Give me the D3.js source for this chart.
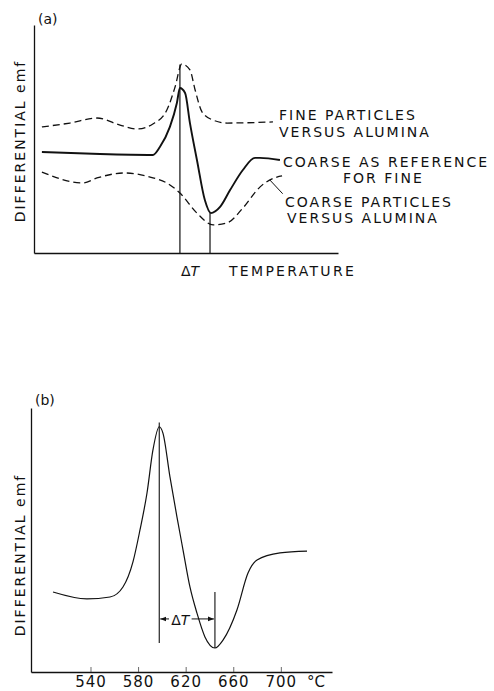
<!DOCTYPE html>
<html>
<head>
<meta charset="utf-8">
<script src="https://cdn.jsdelivr.net/npm/d3@7"></script>
<style>
  body { margin: 0; background: #fff; }
  svg text { font-family: "DejaVu Sans", sans-serif; fill: #111; }
</style>
</head>
<body>
<svg id="chart" width="494" height="691"></svg>
<script>
// (a) schematic curves, arbitrary units: t = temperature (0-100), v = emf (0-100)
const fineT   = [2.6, 11.8, 20.7, 28.3, 33.9, 39.1, 43.7, 46.4, 48.6, 51.3, 53.0, 55.3, 58.9, 63.5, 78.6];
const fineV   = [55.3, 57.0, 59.2, 56.1, 54.4, 56.6, 62.7, 72.8, 82.9, 80.3, 71.5, 61.8, 58.3, 57.0, 57.5];
const coarseRefT = [2.6, 21.7, 39.1, 41.4, 44.7, 47.0, 48.0, 49.7, 51.3, 53.6, 56.2, 58.2, 61.2, 64.5, 68.7, 72.7, 74.3, 80.9];
const coarseRefV = [44.3, 43.4, 43.0, 46.5, 55.3, 65.8, 72.4, 70.2, 57.0, 40.8, 23.2, 17.5, 20.2, 27.6, 36.4, 41.7, 41.7, 40.8];
const coarseT = [2.6, 16.1, 20.7, 29.9, 38.2, 43.7, 48.0, 53.6, 58.9, 63.5, 68.7, 74.3, 79.9, 81.6];
const coarseV = [35.5, 30.7, 32.9, 35.1, 33.3, 30.7, 26.3, 17.5, 12.3, 13.2, 19.7, 28.9, 33.3, 33.8];
// (b) measured curve: temperature in degC, emf arbitrary
const tempB = [508.5, 537, 556.4, 567.3, 575.7, 581.6, 587.5, 592.5, 597.8, 600.9, 606.8, 612.7, 617.8, 623.6, 629.5, 636.2, 644.6, 651.4, 663.1, 672.4, 680, 699.3, 722];
const emfB  = [30.3, 27.7, 28.4, 32.2, 41.7, 53.8, 67.8, 84.1, 92.9, 90.5, 73.9, 58.7, 46.2, 32.2, 22.3, 13.3, 9.1, 12.1, 23.5, 37.5, 42.4, 45.1, 45.8];
const tickB = [540, 580, 620, 660, 700];

const svg = d3.select("#chart");
const zip = (xs, ys) => xs.map((x, i) => ({x: x, y: ys[i]}));

// ---------- panel (a)
const xa = d3.scaleLinear().domain([0, 100]).range([34, 338]);
const ya = d3.scaleLinear().domain([0, 100]).range([253, 25]);
const lineA = d3.line().x(d => xa(d.x)).y(d => ya(d.y)).curve(d3.curveMonotoneX);

const ga = svg.append("g");
ga.append("g").attr("transform", "translate(0,253)")
    .call(d3.axisBottom(xa).tickValues([]).tickSizeOuter(0));
ga.append("g").attr("transform", "translate(34,0)")
    .call(d3.axisLeft(ya).tickValues([]).tickSizeOuter(0));
ga.selectAll(".domain").attr("stroke", "#111").attr("stroke-width", 1.3);

ga.append("path").attr("d", lineA(zip(fineT, fineV)))
    .attr("fill", "none").attr("stroke", "#111").attr("stroke-width", 1.3).attr("stroke-dasharray", "7,4");
ga.append("path").attr("d", lineA(zip(coarseT, coarseV)))
    .attr("fill", "none").attr("stroke", "#111").attr("stroke-width", 1.3).attr("stroke-dasharray", "7,4");
ga.append("path").attr("d", lineA(zip(coarseRefT, coarseRefV)))
    .attr("fill", "none").attr("stroke", "#111").attr("stroke-width", 1.9);

// delta T verticals
ga.append("line").attr("x1", xa(48.0)).attr("x2", xa(48.0)).attr("y1", ya(0)).attr("y2", ya(82.7))
    .attr("stroke", "#111").attr("stroke-width", 1.2);
ga.append("line").attr("x1", xa(57.9)).attr("x2", xa(57.9)).attr("y1", ya(0)).attr("y2", ya(17.5))
    .attr("stroke", "#111").attr("stroke-width", 1.2);
// leader for lower label
ga.append("line").attr("x1", xa(77.6)).attr("y1", ya(32.0)).attr("x2", xa(81.8)).attr("y2", ya(26.0))
    .attr("stroke", "#111").attr("stroke-width", 1);

const labA = [
  {t: "FINE PARTICLES", x: 279, y: 120},
  {t: "VERSUS ALUMINA", x: 279, y: 137},
  {t: "COARSE AS REFERENCE", x: 283, y: 167},
  {t: "FOR FINE", x: 343, y: 183},
  {t: "COARSE PARTICLES", x: 285, y: 207},
  {t: "VERSUS ALUMINA", x: 287, y: 223}
];
ga.selectAll("text.lab").data(labA).enter().append("text")
    .attr("class", "lab").attr("x", d => d.x).attr("y", d => d.y)
    .attr("font-size", "14px").attr("letter-spacing", "2px").text(d => d.t);
ga.append("text").attr("x", 38).attr("y", 24).attr("font-size", "14px").text("(a)");
ga.append("text").attr("transform", "translate(25,141) rotate(-90)")
    .attr("text-anchor", "middle").attr("font-size", "14px").attr("letter-spacing", "2px")
    .text("DIFFERENTIAL emf");
const dtA = ga.append("text").attr("x", 181).attr("y", 276).attr("font-size", "14px");
dtA.append("tspan").text("Δ");
dtA.append("tspan").attr("font-style", "italic").text("T");
ga.append("text").attr("x", 229).attr("y", 276).attr("font-size", "14px").attr("letter-spacing", "2.3px")
    .text("TEMPERATURE");

// ---------- panel (b)
const xb = d3.scaleLinear().domain([490, 743]).range([31, 332]);
const yb = d3.scaleLinear().domain([0, 100]).range([672, 408]);
const lineB = d3.line().x(d => xb(d.x)).y(d => yb(d.y)).curve(d3.curveMonotoneX);

const gb = svg.append("g");
const axB = gb.append("g").attr("transform", "translate(0,672)")
    .call(d3.axisBottom(xb).tickValues(tickB).tickSize(-5).tickSizeOuter(0).tickPadding(4));
axB.selectAll("text").attr("font-size", "15px").attr("font-family", "DejaVu Sans, sans-serif")
    .attr("fill", "#111").attr("letter-spacing", "1px");
axB.selectAll(".tick line").attr("stroke", "#444").attr("stroke-width", 0.8);
gb.append("g").attr("transform", "translate(31,0)")
    .call(d3.axisLeft(yb).tickValues([]).tickSizeOuter(0));
gb.selectAll(".domain").attr("stroke", "#111").attr("stroke-width", 1.3);

gb.append("text").attr("x", 307).attr("y", 687).attr("font-size", "15px").text("°C");

gb.append("path").attr("d", lineB(zip(tempB, emfB)))
    .attr("fill", "none").attr("stroke", "#111").attr("stroke-width", 1.2);

gb.append("line").attr("x1", xb(597.8)).attr("x2", xb(597.8)).attr("y1", yb(11)).attr("y2", yb(94.5))
    .attr("stroke", "#111").attr("stroke-width", 1.1);
gb.append("line").attr("x1", xb(644.6)).attr("x2", xb(644.6)).attr("y1", yb(9.1)).attr("y2", yb(30.3))
    .attr("stroke", "#111").attr("stroke-width", 1.1);

// delta T arrow
const defs = svg.append("defs");
defs.append("marker").attr("id", "arr").attr("viewBox", "0 0 10 10").attr("refX", 10).attr("refY", 5)
    .attr("markerWidth", 6).attr("markerHeight", 6).attr("orient", "auto-start-reverse")
    .append("path").attr("d", "M0,1 L10,5 L0,9 z").attr("fill", "#111");
const yArr = yb(20.1);
gb.append("line").attr("x1", xb(597.8) + 1).attr("x2", xb(606)).attr("y1", yArr).attr("y2", yArr)
    .attr("stroke", "#111").attr("stroke-width", 1).attr("marker-start", "url(#arr)");
gb.append("line").attr("x1", xb(625)).attr("x2", xb(644.6) - 1).attr("y1", yArr).attr("y2", yArr)
    .attr("stroke", "#111").attr("stroke-width", 1).attr("marker-end", "url(#arr)");
const dtB = gb.append("text").attr("x", xb(615.5)).attr("y", yArr + 6).attr("text-anchor", "middle")
    .attr("font-size", "14px");
dtB.append("tspan").text("Δ");
dtB.append("tspan").attr("font-style", "italic").text("T");

gb.append("text").attr("x", 35).attr("y", 405).attr("font-size", "14px").text("(b)");
gb.append("text").attr("transform", "translate(25,555) rotate(-90)")
    .attr("text-anchor", "middle").attr("font-size", "14px").attr("letter-spacing", "2px")
    .text("DIFFERENTIAL emf");
</script>
</body>
</html>
